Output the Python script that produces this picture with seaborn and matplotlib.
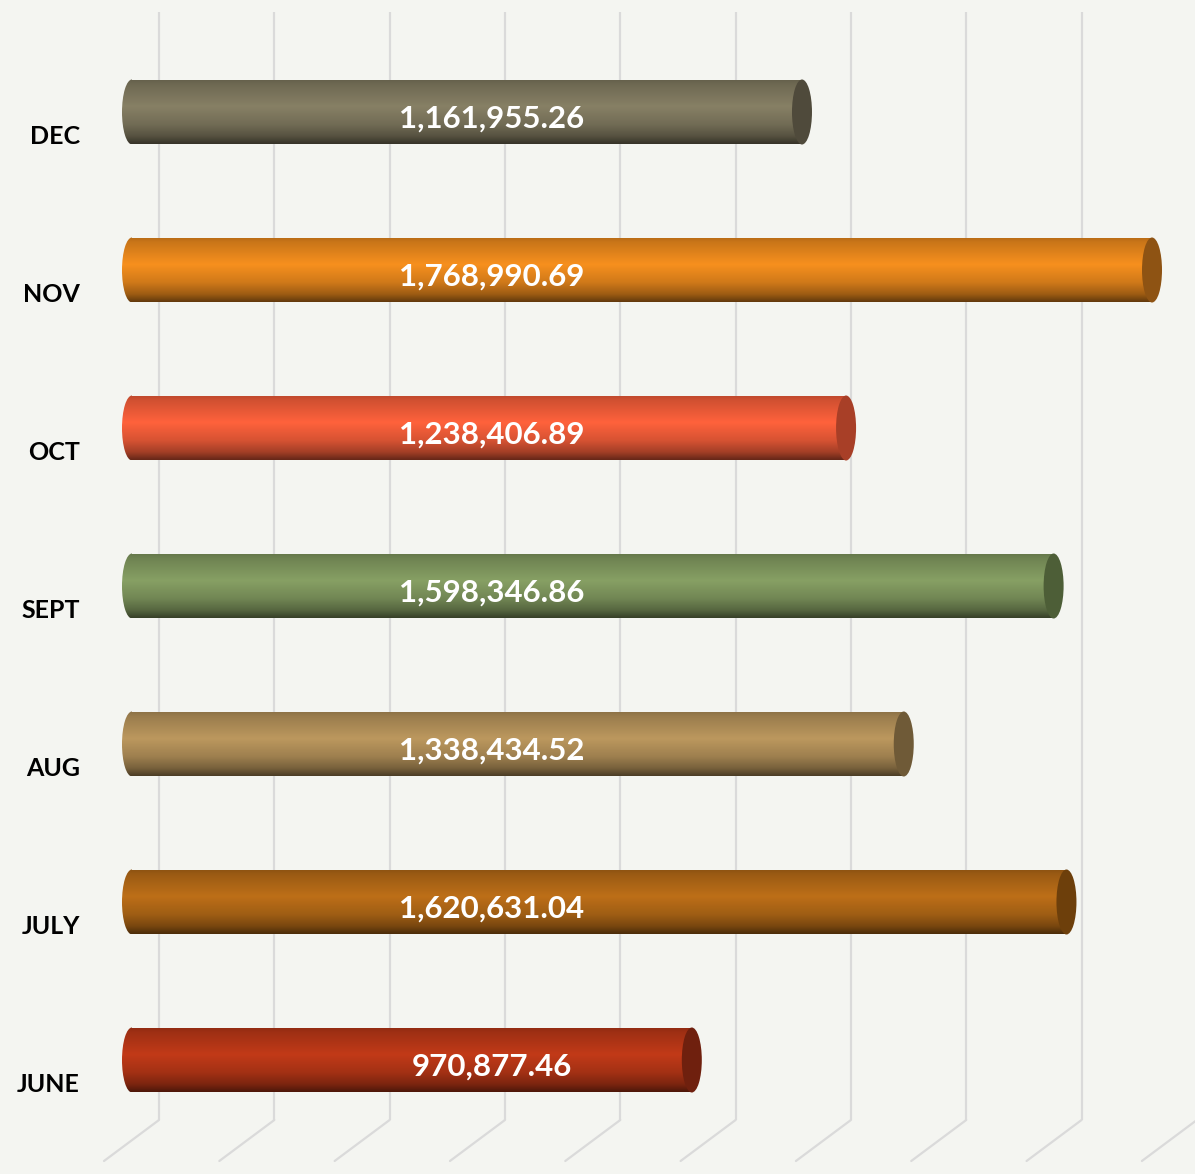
import numpy as np
import seaborn as sns
import matplotlib.pyplot as plt
from matplotlib.patches import Ellipse
from matplotlib.colors import to_rgb
from matplotlib.transforms import ScaledTranslation

# data
months = ["DEC", "NOV", "OCT", "SEPT", "AUG", "JULY", "JUNE"]
totals = [1161955.26, 1768990.69, 1238406.89, 1598346.86, 1338434.52, 1620631.04, 970877.46]
body_colors = ["#878065", "#F7901E", "#FF623C", "#87A064", "#BC985E", "#BD6F18", "#C23A18"]
cap_colors = ["#4F4A3B", "#8E5313", "#A83F27", "#4D5E37", "#6F5A37", "#6D3F0B", "#6F200E"]
grid_ticks = np.arange(0, 1800001, 200000)

bg = "#F4F5F1"
W, H = 1195, 1174
UNIT_PER_PX = 1734.3  # value units per pixel
ROW_PX = 158


def px_x(px):
    return (px - 132) * UNIT_PER_PX


def px_y(py):
    return (py - 112) / ROW_PX


sns.set_style("white")
plt.rcParams["font.family"] = ["Lato", "DejaVu Sans"]

fig = plt.figure(figsize=(W / 100, H / 100), dpi=100, facecolor=bg)
ax = fig.add_axes([95 / W, 0, 1 - 95 / W, 1])
ax.set_facecolor(bg)

# back wall grid + floor lines (3d look)
back_x = grid_ticks + 27 * UNIT_PER_PX
ax.vlines(back_x, px_y(12), px_y(1120), color="#DADADA", lw=1.6, zorder=0, clip_on=False)
for bx in back_x:
    ax.plot([bx, bx - 55 * UNIT_PER_PX], [px_y(1120), px_y(1161)],
            color="#DADADA", lw=1.6, zorder=0, clip_on=False)

bar_h = 65 / ROW_PX
sns.barplot(x=totals, y=months, hue=months, palette=body_colors, legend=False,
            orient="h", width=bar_h, ax=ax, zorder=2)

# cylinder shading
t_pts = [0.0, 0.08, 0.42, 0.7, 0.88, 1.0]
f_pts = [0.74, 0.82, 1.0, 0.84, 0.64, 0.40]
t = np.linspace(0, 1, 120)
shade = np.interp(t, t_pts, f_pts)
half_w = 10 * UNIT_PER_PX

for patch, val, bc, cc in zip(ax.patches, totals, body_colors, cap_colors):
    y0 = patch.get_y()
    h = patch.get_height()
    patch.set_alpha(0)
    grad = (np.array(to_rgb(bc))[None, :] * shade[:, None])[:, None, :]
    # body
    im = ax.imshow(grad, extent=[0, val, y0 + h, y0], aspect="auto",
                   interpolation="bilinear", zorder=3)
    im.set_clip_path(patch)
    # rounded left end
    left = Ellipse((0, y0 + h / 2), 2 * half_w, h, facecolor="none", edgecolor="none")
    ax.add_patch(left)
    im2 = ax.imshow(grad, extent=[-half_w, 0, y0 + h, y0], aspect="auto",
                    interpolation="bilinear", zorder=3)
    im2.set_clip_path(left)
    # end cap
    ax.add_patch(Ellipse((val, y0 + h / 2), 2 * half_w, h, facecolor=cc,
                         edgecolor="none", zorder=4))
    ax.text(px_x(492), y0 + h / 2 + 7 / ROW_PX, f"{val:,.2f}", ha="center", va="center",
            color="white", fontsize=22.5, fontweight="bold", zorder=5)

ax.set_xlim(px_x(95), px_x(W))
ax.set_ylim(px_y(H), px_y(0))
ax.set_xticks([])
ax.set_xlabel("")
ax.set_ylabel("")
ax.tick_params(axis="y", length=0, pad=11)
for lbl in ax.get_yticklabels():
    lbl.set_fontweight("bold")
    lbl.set_fontsize(18)
    lbl.set_color("black")
    lbl.set_transform(lbl.get_transform() + ScaledTranslation(0, -22 / 100, fig.dpi_scale_trans))
for s in ax.spines.values():
    s.set_visible(False)

fig.savefig("out.png", dpi=100, facecolor=bg)
